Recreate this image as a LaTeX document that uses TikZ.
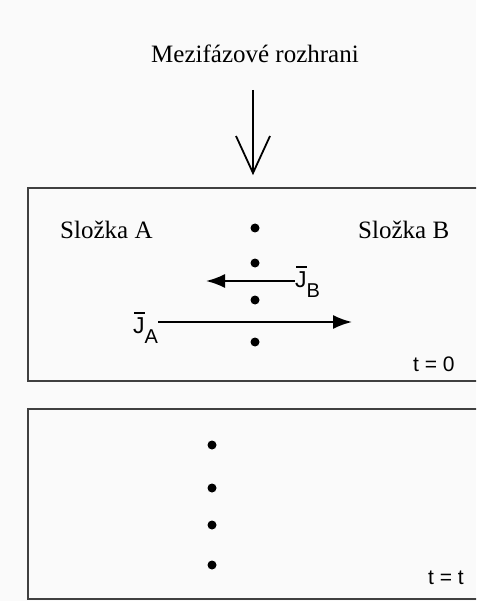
\documentclass[tikz,border=0pt]{standalone}
\usepackage{fontspec}
\setmainfont{Liberation Serif}
\newfontfamily\labelsans{Liberation Sans}
\usetikzlibrary{arrows.meta}
% flux symbol: J with a bar floating above it and a lowered subscript
\newcommand{\fluxname}[2]{\rlap{\kern1pt\raisebox{19.5pt}{\rule{10.5pt}{1.7pt}}}#1\raisebox{-10pt}{\fontsize{20}{22}\selectfont #2}}
\begin{document}
\begin{tikzpicture}[x=1pt,y=-1pt,
  frame/.style={draw=black!75,line width=2.9pt},
  dot/.style={circle,fill=black,inner sep=0pt,minimum size=9pt},
  flux/.style={line width=1.9pt,-{Latex[length=19pt,width=14pt]}},
  serlabel/.style={font=\fontsize{25}{27}\selectfont,inner sep=0pt,anchor=base west},
  sanslabel/.style={font=\labelsans\fontsize{21}{23}\selectfont,inner sep=0pt,anchor=base west},
  jlabel/.style={font=\labelsans\fontsize{23}{25}\selectfont,inner sep=0pt,anchor=base west}]
  % page
  \fill[black!2] (0,0) rectangle (476,601);
  \useasboundingbox (0,0) rectangle (476,601);
  \begin{scope}
    \clip (0,0) rectangle (476,601);
    % the two time frames, running off the right edge
    \draw[frame] (480,188) -- (28,188) -- (28,381) -- (480,381);
    \draw[frame] (480,409) -- (28,409) -- (28,599) -- (480,599);
  \end{scope}

  % interface label and its pointer
  \node[serlabel] (title) at (151,63) {Mezifázové rozhrani};
  \coordinate (ptop) at (253,90);
  \coordinate (ptip) at (253,173);
  \draw[line width=1.8pt] (ptop) -- (ptip);
  \draw[line width=1.8pt,line join=miter] (236,136) -- (ptip) -- (270,136);

  % phase labels
  \node[serlabel] (sa) at (60,238) {Složka A};
  \node[serlabel] (sb) at (358,238) {Složka B};

  % interface at t = 0
  \node[dot] (d1) at (255,228) {};
  \node[dot] (d2) at (255,263) {};
  \node[dot] (d3) at (255,300) {};
  \node[dot] (d4) at (255,342) {};

  % fluxes
  \node[jlabel] (jb) at (295,287) {\fluxname{J}{B}};
  \coordinate (jbtip) at (206,281);
  \draw[flux] (jb.west |- 0,281) -- (jbtip);
  \node[jlabel] (ja) at (133,333) {\fluxname{J}{A}};
  \coordinate (jatip) at (352,322);
  \draw[flux] (ja.east |- 0,322) -- (jatip);

  \node[sanslabel] (t0) at (413,371) {t = 0};

  % interface at t = t
  \node[dot] (e1) at (212,445) {};
  \node[dot] (e2) at (212,488) {};
  \node[dot] (e3) at (212,525) {};
  \node[dot] (e4) at (212,565) {};

  \node[sanslabel] (tt) at (428,584) {t = t};
\end{tikzpicture}
\end{document}
